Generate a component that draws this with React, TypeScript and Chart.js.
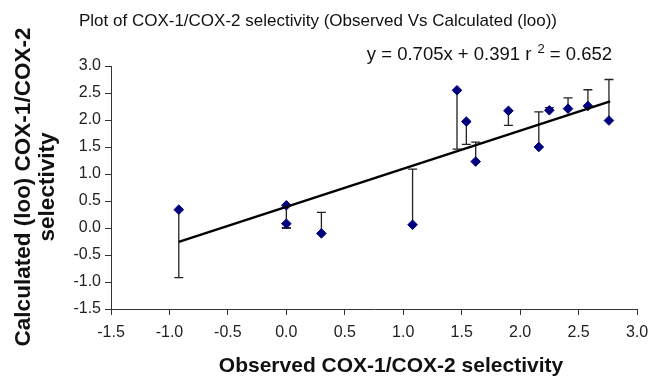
import React, { useEffect, useRef } from "react";
import { Chart, registerables } from "chart.js";

Chart.register(...registerables);

// ---- Data ----
const observed = [-0.92, 0.0, 0.0, 0.3, 1.08, 1.46, 1.54, 1.62, 1.9, 2.16, 2.25, 2.41, 2.58, 2.76];
const calculated = [0.34, 0.42, 0.08, -0.1, 0.06, 2.55, 1.97, 1.23, 2.17, 1.5, 2.18, 2.21, 2.26, 1.99];
const errorBarEnds = [-0.92, 0.0, 0.0, 0.29, 1.09, 1.46, 1.55, 1.59, 1.9, 2.15, 2.23, 2.41, 2.56, 2.75];

const trendSlope = 0.705;
const trendIntercept = 0.391;
const trendXRange = [-0.92, 2.77];

const xTickValues = [-1.5, -1.0, -0.5, 0.0, 0.5, 1.0, 1.5, 2.0, 2.5, 3.0];
const yTickValues = [-1.5, -1.0, -0.5, 0.0, 0.5, 1.0, 1.5, 2.0, 2.5, 3.0];

const chartTitle = "Plot of COX-1/COX-2 selectivity (Observed Vs Calculated (loo))";
const eqMain = "y = 0.705x + 0.391 r";
const eqSup = "2";
const eqTail = " = 0.652";
const xTitle = "Observed COX-1/COX-2 selectivity";
const yTitleLines = ["Calculated (loo) COX-1/COX-2", "selectivity"];

const FONT = '"Liberation Sans", Arial, Helvetica, sans-serif';

const errorBarPlugin = {
  id: "errorBars",
  beforeDatasetsDraw(chart: any) {
    const { ctx, scales } = chart;
    const xs = scales.x;
    const ys = scales.y;
    ctx.save();
    ctx.strokeStyle = "#222";
    ctx.lineWidth = 1.3;
    observed.forEach((xv, i) => {
      const px = xs.getPixelForValue(xv);
      const py0 = ys.getPixelForValue(calculated[i]);
      const py1 = ys.getPixelForValue(errorBarEnds[i]);
      ctx.beginPath();
      ctx.moveTo(px, py0);
      ctx.lineTo(px, py1);
      ctx.moveTo(px - 4.5, py1);
      ctx.lineTo(px + 4.5, py1);
      ctx.stroke();
    });
    ctx.restore();
  },
};

const textPlugin = {
  id: "customText",
  afterDraw(chart: any) {
    const { ctx } = chart;
    ctx.save();
    ctx.fillStyle = "#111";
    // Title
    ctx.font = `17px ${FONT}`;
    ctx.textAlign = "center";
    ctx.textBaseline = "alphabetic";
    ctx.fillText(chartTitle, 318, 26);

    // Equation (right end fixed)
    const mainFont = `18.5px ${FONT}`;
    const supFont = `13px ${FONT}`;
    ctx.textAlign = "left";
    ctx.font = mainFont;
    const wMain = ctx.measureText(eqMain).width;
    const wTail = ctx.measureText(eqTail).width;
    ctx.font = supFont;
    const wSup = ctx.measureText(eqSup).width;
    const gap = 6;
    const right = 612;
    const start = right - (wMain + gap + wSup + wTail);
    const base = 60;
    ctx.font = mainFont;
    ctx.fillText(eqMain, start, base);
    ctx.font = supFont;
    ctx.fillText(eqSup, start + wMain + gap, base - 7);
    ctx.font = mainFont;
    ctx.fillText(eqTail, start + wMain + gap + wSup, base);

    // X title
    ctx.font = `bold 21px ${FONT}`;
    ctx.textAlign = "center";
    ctx.fillText(xTitle, 391, 372);

    // Y title (rotated)
    const cy = 187;
    const baselines = [30, 54];
    ctx.font = `bold 22.5px ${FONT}`;
    yTitleLines.forEach((line, i) => {
      ctx.save();
      ctx.translate(baselines[i], cy);
      ctx.rotate(-Math.PI / 2);
      ctx.textAlign = "center";
      ctx.fillText(line, 0, 0);
      ctx.restore();
    });
    ctx.restore();
  },
};

export default function App() {
  const ref = useRef<HTMLCanvasElement | null>(null);

  useEffect(() => {
    if (!ref.current) return;
    const points = observed.map((x, i) => ({ x, y: calculated[i] }));
    const trend = trendXRange.map((x) => ({ x, y: trendSlope * x + trendIntercept }));
    const chart = new Chart(ref.current, {
      type: "scatter",
      data: {
        datasets: [
          {
            type: "line",
            label: "Trend",
            data: trend,
            borderColor: "#000",
            borderWidth: 2.5,
            pointRadius: 0,
            fill: false,
          } as any,
          {
            label: "Calculated",
            data: points,
            pointStyle: "rectRot",
            pointRadius: 4.8,
            backgroundColor: "#00007f",
            borderColor: "#00007f",
            borderWidth: 1,
          },
        ],
      },
      options: {
        responsive: false,
        animation: false,
        devicePixelRatio: 1,
        layout: { padding: { top: 66, right: 11, bottom: 0, left: 0 } },
        plugins: {
          legend: { display: false },
          title: { display: false },
          tooltip: { enabled: false },
        },
        scales: {
          x: {
            type: "linear",
            min: -1.5,
            max: 3.0,
            afterBuildTicks: (scale: any) => {
              scale.ticks = xTickValues.map((v) => ({ value: v }));
            },
            afterFit: (scale: any) => {
              scale.height = 67;
              scale.paddingRight = 0;
              scale.paddingLeft = 0;
            },
            grid: {
              display: true,
              drawOnChartArea: false,
              drawTicks: true,
              tickLength: 6,
              color: "#333",
            },
            border: { display: true, color: "#333", width: 1 },
            ticks: {
              callback: (v: any) => Number(v).toFixed(1),
              font: { family: FONT, size: 16 },
              color: "#222",
              padding: 8,
              maxRotation: 0,
              autoSkip: false,
            },
          },
          y: {
            type: "linear",
            min: -1.5,
            max: 3.0,
            afterBuildTicks: (scale: any) => {
              scale.ticks = yTickValues.map((v) => ({ value: v }));
            },
            afterFit: (scale: any) => {
              scale.width = 111;
            },
            grid: {
              display: true,
              drawOnChartArea: false,
              drawTicks: true,
              tickLength: 6,
              color: "#333",
            },
            border: { display: true, color: "#333", width: 1 },
            ticks: {
              callback: (v: any) => Number(v).toFixed(1),
              font: { family: FONT, size: 16 },
              color: "#222",
              padding: 4,
              autoSkip: false,
            },
          },
        },
      },
      plugins: [errorBarPlugin, textPlugin],
    });
    return () => chart.destroy();
  }, []);

  return (
    <div style={{ position: "absolute", left: 0, top: 0, width: 648, height: 376, background: "#fff" }}>
      <canvas ref={ref} width={648} height={376} style={{ width: 648, height: 376, display: "block" }} />
    </div>
  );
}
